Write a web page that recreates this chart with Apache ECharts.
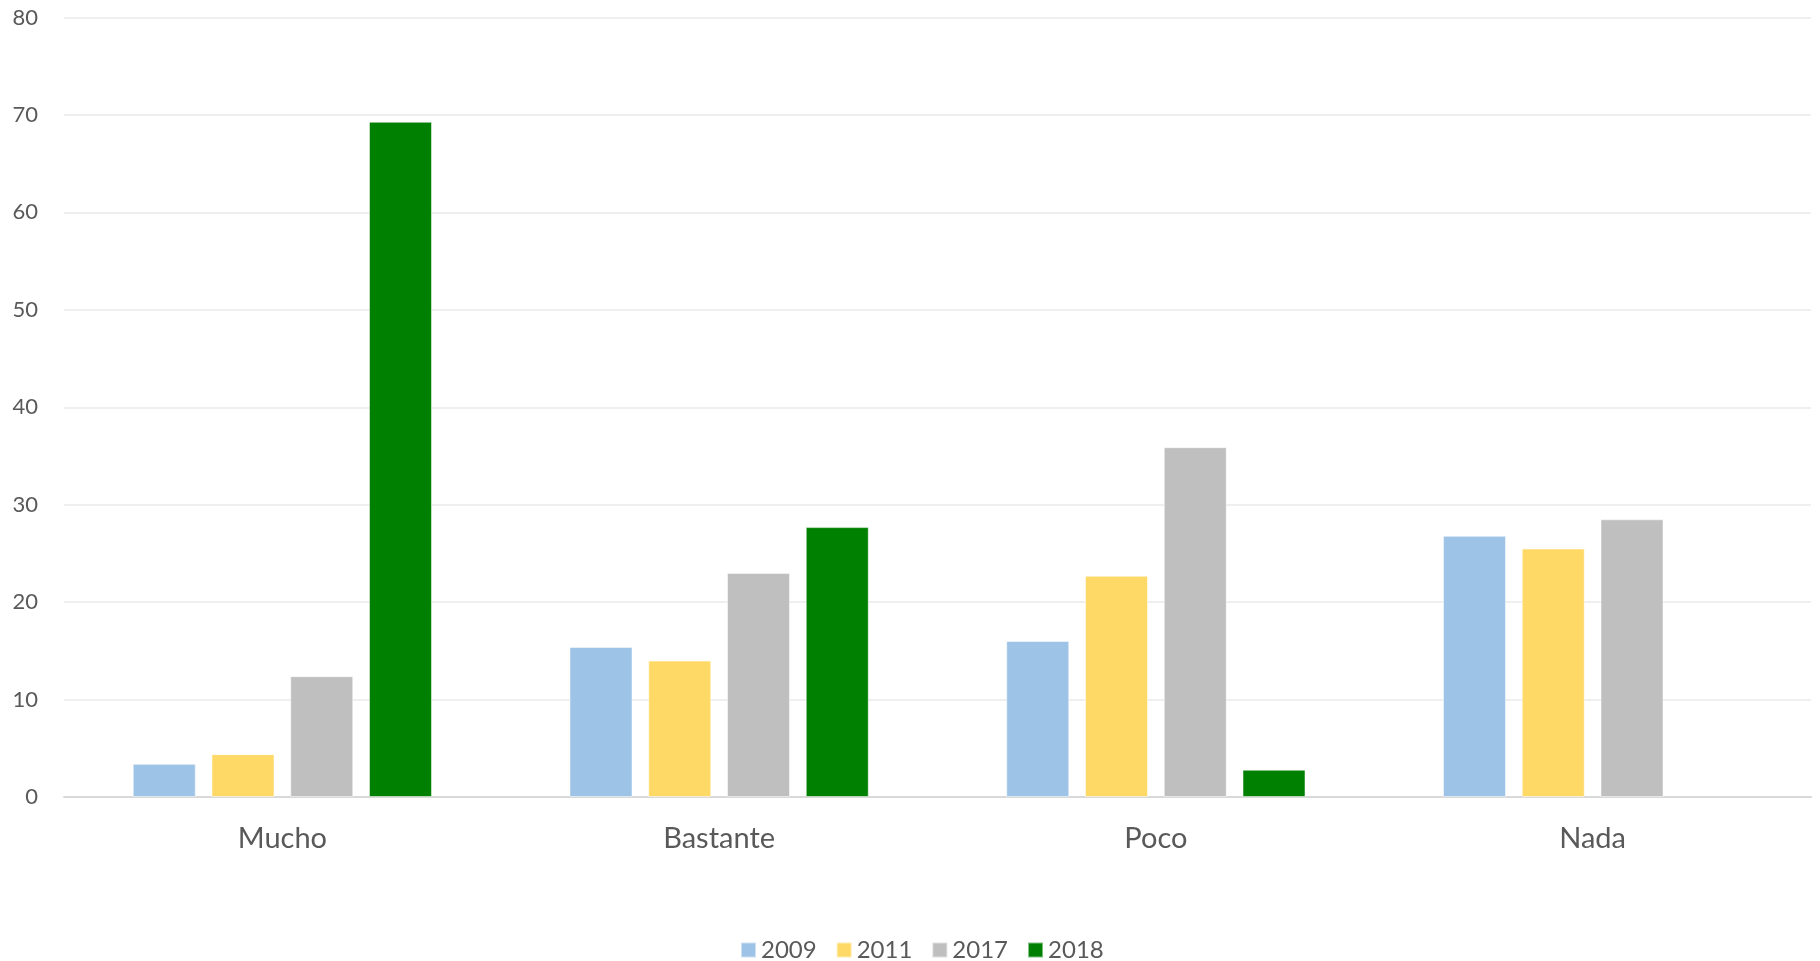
<!DOCTYPE html>
<html>
<head>
<meta charset="utf-8">
<script src="https://cdn.jsdelivr.net/npm/echarts@6/dist/echarts.min.js"></script>
<style>
html,body{margin:0;padding:0;background:#fff;}
#chart{width:1820px;height:961px;}
</style>
</head>
<body>
<div id="chart"></div>
<script>
const categories = ['Mucho', 'Bastante', 'Poco', 'Nada'];
const seriesNames = ['2009', '2011', '2017', '2018'];
const v2009 = [3.4, 15.4, 16.0, 26.8];
const v2011 = [4.4, 14.0, 22.7, 25.5];
const v2017 = [12.4, 23.0, 35.9, 28.5];
const v2018 = [69.3, 27.7, 2.8, null];
const colors = ['#9DC3E6', '#FFD966', '#BFBFBF', '#008000'];
const values = [v2009, v2011, v2017, v2018];

const chart = echarts.init(document.getElementById('chart'));
const font = 'Lato, "Open Sans", sans-serif';
chart.setOption({
  animation: false,
  backgroundColor: '#ffffff',
  grid: { left: 64, right: 9, top: 17.5, bottom: 164, containLabel: false },
  legend: {
    top: 933,
    left: 735,
    itemWidth: 15,
    itemHeight: 15,
    itemGap: 19,
    icon: 'rect',
    textStyle: { fontFamily: font, fontSize: 24, color: '#595959' },
    data: seriesNames
  },
  xAxis: {
    type: 'category',
    data: categories,
    axisLine: { lineStyle: { color: '#d9d9d9', width: 2 } },
    axisTick: { show: false },
    axisLabel: { fontFamily: font, fontSize: 29, color: '#595959', margin: 27 }
  },
  yAxis: {
    type: 'value',
    min: 0, max: 80, interval: 10,
    axisLine: { show: false },
    axisTick: { show: false },
    splitLine: { lineStyle: { color: '#efefef', width: 2 } },
    axisLabel: { fontFamily: font, fontSize: 22, color: '#595959', margin: 26 }
  },
  series: seriesNames.map((n, i) => ({
    name: n,
    type: 'bar',
    data: values[i],
    barWidth: 63,
    barGap: '25%',
    itemStyle: { color: colors[i], borderColor: 'rgba(255,255,255,0.5)', borderWidth: 1 }
  }))
});
</script>
</body>
</html>
